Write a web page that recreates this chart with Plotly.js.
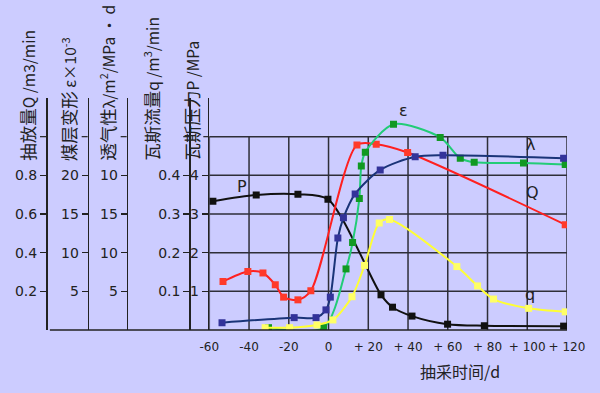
<!DOCTYPE html>
<html><head><meta charset="utf-8">
<script src="https://cdn.plot.ly/plotly-3.0.1.min.js"></script>
<style>html,body{margin:0;padding:0;background:#ccccff}</style>
</head><body><div id="chart" style="width:600px;height:393px"></div>
<script>
// ---- data (days relative to start of extraction) ----
const dayP = [-58.2, -36.4, -15.4, -0.3, 26.4, 32.2, 42.0, 59.9, 78.4, 118.3];
const valP = [3.33, 3.49, 3.51, 3.38, 0.91, 0.59, 0.36, 0.15, 0.11, 0.10];       // MPa

const dayQ = [-53.1, -40.6, -33.0, -26.8, -22.6, -15.4, -8.9, 14.3, 24.0, 39.8, 119.1];
const valQ = [0.251, 0.303, 0.295, 0.234, 0.170, 0.156, 0.203, 0.957, 0.961, 0.918, 0.545]; // m3/min

const dayL = [-53.6, -17.3, -6.3, -1.3, 0.9, 4.7, 7.5, 13.4, 26.0, 43.6, 57.6, 118.3];
const valL = [0.95, 1.6, 1.6, 2.6, 4.25, 11.9, 14.5, 17.6, 20.7, 22.4, 22.6, 22.2];   // lambda

const dayE = [-30.2, -2.5, 8.8, 12.1, 15.5, 16.5, 18.5, 32.7, 56.2, 66.3, 73.3, 98.1, 119.1];
const valE = [0.3, 0.3, 7.9, 11.3, 17.0, 21.2, 23.0, 26.6, 24.9, 22.2, 21.7, 21.6, 21.4]; // eps x1e-3

const dayq = [-31.9, -19.6, -5.8, 2.2, 11.8, 18.1, 25.5, 30.7, 64.6, 75.0, 83.0, 100.7, 119.1];
const valq = [0.006, 0.006, 0.013, 0.026, 0.086, 0.167, 0.277, 0.286, 0.164, 0.114, 0.080, 0.056, 0.047]; // m3/min

const xTickVals = [-60, -40, -20, 0, 20, 40, 60, 80, 100, 120];
const xTickText = ['-60', '-40', '-20', '0', '+ 20', '+ 40', '+ 60', '+ 80', '+ 100', '+ 120'];

const pTicks = [1, 2, 3, 4];          const pText = ['1', '2', '3', '4'];
const qTicks = [0.2, 0.4, 0.6, 0.8];  const qText = ['0.2', '0.4', '0.6', '0.8'];
const eTicks = [5, 10, 15, 20];       const eText = ['5', '10', '15', '20'];
const lTicks = [5, 10, 15, 20];       const lText = ['5', '10', '15', '10'];
const fTicks = [0.1, 0.2, 0.3, 0.4];  const fText = ['0.1', '0.2', '0.3', '0.4'];
const topTickLevel = 5;   // unlabeled top tick (P-scale units, shared by all axes)

const gridDays = [-60, -40, -20, 0, 20, 40, 60, 80, 100, 120];
const gridLevels = [1, 2, 3, 4, 5];

// ---- drawing ----
const FONT = 'DejaVu Sans, Noto Sans CJK SC, sans-serif';
const CJK = 'Noto Sans CJK SC, sans-serif';
const INK = '#222';
const AX_POS = {y: 0.3339, y2: 0.0298, y3: 0.1074, y4: 0.180, y5: 0.2966};

function tr(x, y, ax, lineColor, markColor, name) {
  return {x: x, y: y, yaxis: ax, xaxis: 'x', type: 'scatter', mode: 'lines+markers', name: name,
    line: {color: lineColor, width: 2, shape: 'spline', smoothing: 0.8},
    marker: {symbol: 'square', size: 7, color: markColor}, hoverinfo: 'skip'};
}
const data = [
  tr(dayE, valE, 'y3', '#22cc77', '#119922', 'ε'),
  tr(dayq, valq, 'y5', '#ffff33', '#ffff66', 'q'),
  tr(dayP, valP, 'y', '#111111', '#111111', 'P'),
  tr(dayQ, valQ, 'y2', '#ff2020', '#ff3a2a', 'Q'),
  tr(dayL, valL, 'y4', '#1a3478', '#33339a', 'λ')
];

function yax(o) {
  return Object.assign({showgrid: false, zeroline: false, showline: true, linecolor: INK, linewidth: 1.5,
    ticks: 'outside', ticklen: 6, tickwidth: 1.2, tickcolor: INK, tickmode: 'array',
    tickfont: {family: FONT, size: 14, color: INK}, fixedrange: true}, o);
}

const shapes = [];
gridDays.forEach(d => shapes.push({type: 'line', xref: 'x', yref: 'y', x0: d, x1: d, y0: 0, y1: 5,
  line: {color: '#2e2e38', width: 1.5}, layer: 'below'}));
gridLevels.forEach(v => shapes.push({type: 'line', xref: 'x', yref: 'y', x0: -60, x1: 120, y0: v, y1: v,
  line: {color: '#2e2e38', width: 1.5}, layer: 'below'}));
shapes.push({type: 'line', xref: 'paper', yref: 'paper', x0: 0.037, x1: 1, y0: 0, y1: 0,
  line: {color: INK, width: 1.5}});
Object.keys(AX_POS).forEach(k => shapes.push({type: 'line', xref: 'paper', xsizemode: 'pixel',
  xanchor: AX_POS[k], x0: -6, x1: 0, yref: 'y', y0: topTickLevel, y1: topTickLevel,
  line: {color: INK, width: 1.2}}));

function big(s) { return '<span style="font-size:17.5px">' + s + '</span>'; }
function vtitle(text, x, y) {
  return {xref: 'paper', yref: 'paper', x: x, y: y, xanchor: 'center', yanchor: 'bottom',
    text: text, textangle: -90, showarrow: false, font: {family: CJK, size: 15.5, color: INK}};
}
function lab(text, x, y) {
  return {xref: 'x', yref: 'y', x: x, y: y, text: text, showarrow: false,
    font: {family: FONT, size: 16, color: INK}};
}
const annotations = [
  vtitle(big('抽放量') + 'Q /m3/min', -0.005, 0.72),
  vtitle(big('煤层变形') + ' ε×10<sup>-3</sup>', 0.073, 0.72),
  vtitle(big('透气性') + 'λ/m<sup>2</sup>/MPa · d', 0.145, 0.72),
  vtitle(big('瓦斯流量') + 'q /m<sup>3</sup>/min', 0.227, 0.72),
  vtitle(big('瓦斯压力') + 'P /MPa', 0.301, 0.72),
  {xref: 'paper', yref: 'paper', x: 0.8007, y: -0.177, xanchor: 'center', yanchor: 'middle',
   text: '抽采时间/d', showarrow: false, font: {family: CJK, size: 16, color: INK}},
  lab('P', -43.6, 3.71),
  lab('ε', 37.8, 5.67),
  lab('λ', 101.5, 4.81),
  lab('Q', 102.4, 3.55),
  lab('q', 101.5, 0.91)
];

const layout = {
  width: 600, height: 393, autosize: false,
  margin: {l: 30, r: 33, t: 98, b: 63, pad: 0},
  paper_bgcolor: '#ccccff', plot_bgcolor: '#ccccff',
  showlegend: false,
  xaxis: {domain: [0.3339, 1], range: [-60, 120], showgrid: false, zeroline: false, showline: false,
    tickmode: 'array', tickvals: xTickVals, ticktext: xTickText, ticks: 'outside', ticklen: 6,
    tickcolor: 'rgba(0,0,0,0)', tickfont: {family: FONT, size: 12, color: INK}, fixedrange: true},
  yaxis: yax({range: [0, 6], tickvals: pTicks, ticktext: pText, anchor: 'x'}),
  yaxis2: yax({range: [0, 1.2], tickvals: qTicks, ticktext: qText, overlaying: 'y', anchor: 'free', position: AX_POS.y2, side: 'left'}),
  yaxis3: yax({range: [0, 30], tickvals: eTicks, ticktext: eText, overlaying: 'y', anchor: 'free', position: AX_POS.y3, side: 'left'}),
  yaxis4: yax({range: [0, 30], tickvals: lTicks, ticktext: lText, overlaying: 'y', anchor: 'free', position: AX_POS.y4, side: 'left'}),
  yaxis5: yax({range: [0, 0.6], tickvals: fTicks, ticktext: fText, overlaying: 'y', anchor: 'free', position: AX_POS.y5, side: 'left'}),
  shapes: shapes,
  annotations: annotations
};

Plotly.newPlot('chart', data, layout, {displayModeBar: false, staticPlot: true});
</script>
</body></html>
